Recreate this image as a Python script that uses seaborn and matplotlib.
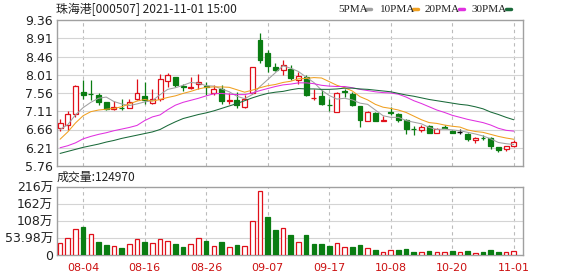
import numpy as np
import pandas as pd
import matplotlib
matplotlib.use("Agg")
import matplotlib.pyplot as plt
import seaborn as sns
from matplotlib.patches import Rectangle

# ---------------- data ----------------
title_text = "珠海港[000507] 2021-11-01 15:00"
vol_text = "成交量:124970"

tick_idx = [3, 11, 19, 27, 35, 43, 51, 59]
tick_labels = ["08-04", "08-16", "08-26", "09-07", "09-17", "10-08", "10-20", "11-01"]

price_ticks = [9.36, 8.91, 8.46, 8.01, 7.56, 7.11, 6.66, 6.21, 5.76]
vol_ticks = [0, 53.98, 108, 162, 216]
vol_tick_labels = ["0", "53.98万", "108万", "162万", "216万"]

opens = [6.69, 6.77, 7.05, 7.59, 7.54, 7.52, 7.34, 7.16, 7.19, 7.20,
         7.42, 7.48, 7.31, 7.42, 7.86, 7.95, 7.73, 7.69, 7.79, 7.74,
         7.55, 7.67, 7.37, 7.38, 7.22, 7.55, 8.86, 8.55, 8.20, 8.12,
         8.16, 7.87, 7.96, 7.43, 7.48, 7.27, 7.10, 7.61, 7.53, 7.24,
         6.87, 7.07, 6.88, 7.08, 7.03, 6.90, 6.68, 6.65, 6.74, 6.58,
         6.71, 6.63, 6.60, 6.56, 6.40, 6.45, 6.44, 6.23, 6.18, 6.25]
highs = [6.93, 7.12, 7.75, 7.87, 7.87, 7.56, 7.35, 7.37, 7.41, 7.42,
         7.90, 7.82, 7.67, 8.04, 8.06, 7.96, 7.77, 7.96, 8.02, 7.83,
         7.75, 7.75, 7.55, 7.59, 7.51, 8.20, 9.03, 8.61, 8.30, 8.37,
         8.24, 8.08, 8.00, 7.65, 7.63, 7.42, 7.59, 7.67, 7.59, 7.25,
         7.11, 7.10, 7.00, 7.22, 7.07, 6.91, 6.74, 6.77, 6.76, 6.70,
         6.77, 6.64, 6.67, 6.58, 6.47, 6.52, 6.48, 6.24, 6.26, 6.40]
lows = [6.63, 6.64, 6.98, 7.40, 7.38, 7.26, 7.15, 7.14, 7.14, 7.18,
        7.38, 7.30, 7.28, 7.37, 7.71, 7.70, 7.60, 7.67, 7.67, 7.51,
        7.52, 7.30, 7.30, 7.18, 7.18, 7.53, 8.30, 8.08, 8.10, 8.00,
        7.89, 7.79, 7.48, 7.38, 7.26, 7.11, 7.10, 7.46, 7.24, 6.73,
        6.86, 6.86, 6.88, 7.01, 6.85, 6.54, 6.53, 6.60, 6.58, 6.58,
        6.69, 6.57, 6.56, 6.38, 6.33, 6.40, 6.19, 6.11, 6.14, 6.23]
closes = [6.82, 7.03, 7.74, 7.51, 7.53, 7.34, 7.16, 7.22, 7.18, 7.34,
          7.57, 7.38, 7.40, 7.90, 8.01, 7.75, 7.71, 7.71, 7.83, 7.72,
          7.67, 7.36, 7.38, 7.26, 7.42, 8.19, 8.37, 8.22, 8.12, 8.24,
          7.92, 7.97, 7.51, 7.44, 7.30, 7.26, 7.56, 7.59, 7.26, 6.89,
          7.08, 6.87, 6.89, 7.06, 6.89, 6.67, 6.67, 6.73, 6.58, 6.67,
          6.70, 6.58, 6.60, 6.42, 6.46, 6.44, 6.25, 6.15, 6.25, 6.34]

ma5 = [6.66, 6.78, 7.02, 7.20, 7.33, 7.43, 7.46, 7.35, 7.29, 7.25,
       7.29, 7.34, 7.37, 7.52, 7.65, 7.69, 7.75, 7.82, 7.80, 7.74,
       7.73, 7.66, 7.59, 7.48, 7.42, 7.52, 7.72, 7.89, 8.06, 8.23,
       8.17, 8.09, 7.95, 7.82, 7.63, 7.50, 7.41, 7.43, 7.39, 7.31,
       7.28, 7.14, 7.00, 6.96, 6.96, 6.88, 6.84, 6.80, 6.71, 6.66,
       6.67, 6.65, 6.63, 6.59, 6.55, 6.50, 6.43, 6.34, 6.31, 6.29]
ma10 = [6.42, 6.60, 6.82, 7.00, 7.10, 7.14, 7.16, 7.18, 7.22, 7.29,
        7.36, 7.40, 7.36, 7.40, 7.45, 7.49, 7.55, 7.60, 7.66, 7.70,
        7.71, 7.71, 7.70, 7.64, 7.58, 7.63, 7.69, 7.74, 7.77, 7.82,
        7.85, 7.91, 7.92, 7.94, 7.93, 7.84, 7.75, 7.69, 7.61, 7.47,
        7.39, 7.28, 7.21, 7.18, 7.14, 7.08, 6.99, 6.90, 6.83, 6.81,
        6.77, 6.74, 6.72, 6.65, 6.61, 6.59, 6.54, 6.49, 6.45, 6.42]
ma20 = [6.21, 6.26, 6.33, 6.43, 6.49, 6.54, 6.58, 6.63, 6.67, 6.71,
        6.76, 6.88, 6.97, 7.02, 7.15, 7.26, 7.33, 7.38, 7.43, 7.49,
        7.54, 7.55, 7.53, 7.52, 7.52, 7.56, 7.62, 7.67, 7.72, 7.76,
        7.78, 7.81, 7.81, 7.79, 7.75, 7.73, 7.72, 7.72, 7.69, 7.65,
        7.62, 7.59, 7.57, 7.56, 7.53, 7.46, 7.37, 7.30, 7.22, 7.14,
        7.08, 7.01, 6.96, 6.91, 6.87, 6.83, 6.77, 6.69, 6.64, 6.62]
ma30 = [6.07, 6.12, 6.17, 6.22, 6.26, 6.30, 6.35, 6.39, 6.44, 6.48,
        6.52, 6.56, 6.60, 6.66, 6.76, 6.85, 6.93, 6.98, 7.03, 7.07,
        7.12, 7.18, 7.24, 7.30, 7.37, 7.44, 7.50, 7.55, 7.58, 7.60,
        7.64, 7.67, 7.66, 7.66, 7.65, 7.65, 7.66, 7.68, 7.68, 7.66,
        7.65, 7.63, 7.61, 7.59, 7.55, 7.51, 7.48, 7.44, 7.40, 7.37,
        7.34, 7.31, 7.28, 7.26, 7.22, 7.17, 7.09, 7.03, 6.96, 6.90]

volumes = [37, 53, 81, 90, 65, 40, 32, 28, 23, 35,
           50, 40, 37, 50, 44, 34, 26, 34, 53, 44,
           28, 40, 24, 32, 28, 107, 202, 121, 79, 84,
           63, 42, 63, 35, 35, 28, 39, 24, 24, 32,
           21, 16, 8.4, 16, 16, 19, 10.5, 8.4, 12.6, 8.4,
           8.4, 12.6, 8.4, 12.6, 5, 10.5, 16, 10.5, 8.4, 12.497]
vol_up = [1, 1, 1, 0, 1, 0, 0, 1, 0, 1,
          1, 0, 1, 1, 1, 0, 0, 1, 1, 0,
          1, 0, 1, 0, 1, 1, 1, 0, 0, 1,
          0, 1, 0, 0, 0, 0, 1, 1, 0, 0,
          1, 0, 1, 1, 0, 0, 0, 1, 0, 1,
          1, 0, 1, 0, 1, 0, 0, 0, 1, 1]

ma_names = ["5PMA", "10PMA", "20PMA", "30PMA"]
# --------------------------------------

RED = "#e0101a"
GREEN = "#0a7d12"
ma_colors = ["#a0a0a0", "#f0a020", "#e030e0", "#1a6a3a"]

sns.set_theme(style="white")
plt.rcParams["font.family"] = ["DejaVu Sans", "Noto Sans CJK SC"]

n = len(closes)
idx = np.arange(n)
df = pd.DataFrame({"i": idx, "open": opens, "high": highs, "low": lows,
                   "close": closes, "ma5": ma5, "ma10": ma10, "ma20": ma20,
                   "ma30": ma30, "vol": volumes, "vup": vol_up})

W, H = 578, 276
fig = plt.figure(figsize=(W / 100, H / 100), dpi=100)
fig.patch.set_facecolor("white")

def px_axes(x0, y0, x1, y1):
    return fig.add_axes([x0 / W, 1 - y1 / H, (x1 - x0) / W, (y1 - y0) / H])

ax = px_axes(57, 20, 523, 166)
axv = px_axes(57, 186.7, 523, 255)

xlim = (-0.4, 60.2)
for a in (ax, axv):
    a.set_xlim(*xlim)
    a.set_facecolor("white")
    for s in a.spines.values():
        s.set_color("#a0a0a0")
        s.set_linewidth(1.0)
    a.tick_params(axis="both", length=0, labelsize=9, colors="#222222", pad=3)
    for t in tick_idx:
        a.axvline(t, color="#bbbbbb", lw=0.8, ls=(0, (3, 3)), zorder=0)

# price panel
ax.set_ylim(5.76, 9.36)
ax.set_yticks(price_ticks)
ax.set_yticklabels([f"{v:.2f}" for v in price_ticks])
for v in price_ticks[1:-1]:
    ax.axhline(v, color="#d4d4d4", lw=0.8, zorder=0)
ax.set_xticks(tick_idx)
ax.set_xticklabels([])

bw = 0.64
for r in df.itertuples():
    if r.close > r.open:
        col, face = RED, "white"
    elif r.close < r.open:
        col, face = GREEN, GREEN
    else:
        col, face = "#111111", "#111111"
    ax.vlines(r.i, r.low, r.high, color=col, lw=0.9, zorder=2)
    lo, hi = min(r.open, r.close), max(r.open, r.close)
    if hi - lo > 0.005:
        ax.add_patch(Rectangle((r.i - bw / 2, lo), bw, hi - lo, facecolor=face,
                               edgecolor=col, lw=0.9, zorder=3))
    else:
        ax.hlines(lo, r.i - bw / 2, r.i + bw / 2, color=col, lw=1.0, zorder=3)

for col_name, c in zip(["ma5", "ma10", "ma20", "ma30"], ma_colors):
    sns.lineplot(data=df, x="i", y=col_name, ax=ax, color=c, lw=0.75,
                 zorder=4, legend=False)
ax.set_xlabel("")
ax.set_ylabel("")

# volume panel
axv.set_ylim(0, 216)
axv.set_yticks(vol_ticks)
axv.set_yticklabels(vol_tick_labels)
for v in vol_ticks[1:-1]:
    axv.axhline(v, color="#d4d4d4", lw=0.8, zorder=0)
for r in df.itertuples():
    if r.vup:
        axv.bar(r.i, r.vol, width=0.6, facecolor="white", edgecolor=RED,
                lw=0.9, zorder=3)
    else:
        axv.bar(r.i, r.vol, width=0.6, facecolor=GREEN, edgecolor=GREEN,
                lw=0.9, zorder=3)
axv.set_xticks(tick_idx)
axv.set_xticklabels(tick_labels, color="#cc1111", fontsize=8)
axv.tick_params(axis="x", pad=6, colors="#cc1111")
axv.set_xlabel("")
axv.set_ylabel("")

# texts
fig.text(56 / W, 1 - 9 / H, title_text, fontsize=8.6, va="center", ha="left",
         color="#222222", family=["Noto Sans CJK SC", "DejaVu Sans"])
fig.text(57 / W, 1 - 177 / H, vol_text, fontsize=8.6, va="center", ha="left",
         color="#222222", family=["Noto Sans CJK SC", "DejaVu Sans"])

leg_x = [338, 380, 425, 472]
dash_x = [366, 413, 459, 506]
for name, c, lx, dx in zip(ma_names, ma_colors, leg_x, dash_x):
    fig.text(lx / W, 1 - 9 / H, name, fontsize=8, va="center", ha="left",
             color="#222222", family="Liberation Serif")
    fig.add_artist(plt.Line2D([dx / W, (dx + 5) / W], [1 - 9 / H, 1 - 9 / H],
                              color=c, lw=2.5, transform=fig.transFigure))

fig.savefig("out.png", dpi=100)
